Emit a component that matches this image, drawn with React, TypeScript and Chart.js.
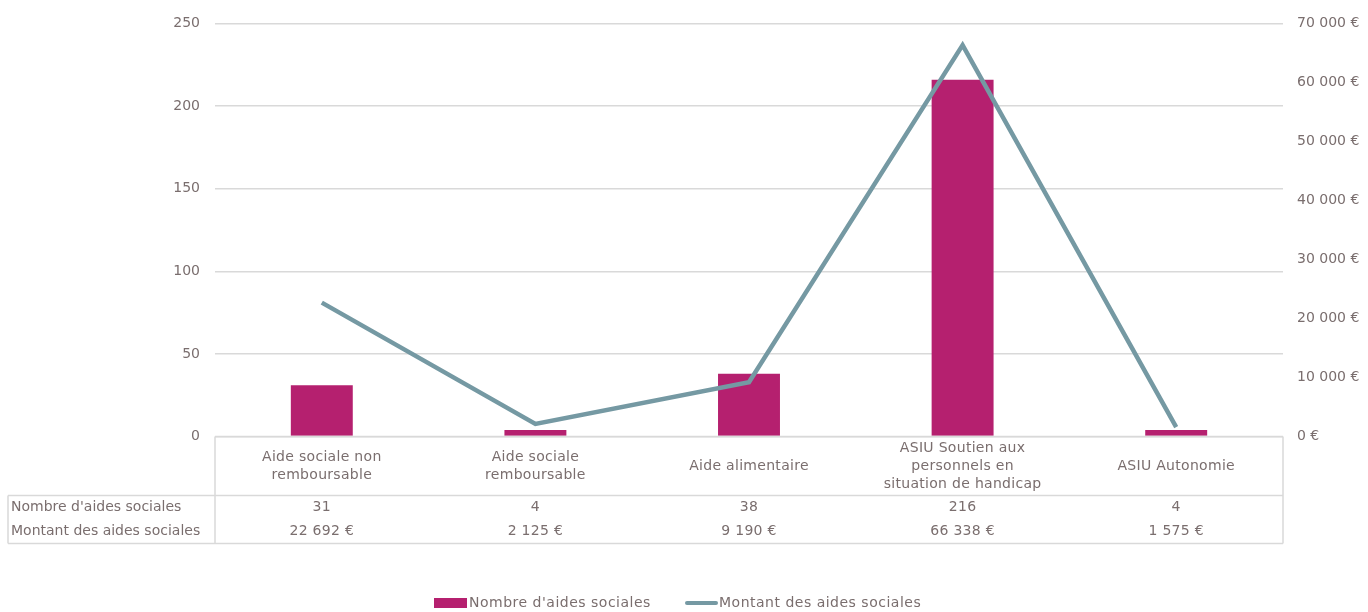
import React, { useEffect, useRef } from "react";
import { Chart, registerables } from "chart.js";

Chart.register(...registerables);

const categories: string[][] = [
  ["Aide sociale non", "remboursable"],
  ["Aide sociale", "remboursable"],
  ["Aide alimentaire"],
  ["ASIU Soutien aux", "personnels en", "situation de handicap"],
  ["ASIU Autonomie"],
];
const nombreAides: number[] = [31, 4, 38, 216, 4];
const montantAides: number[] = [22692, 2125, 9190, 66338, 1575];
const seriesNames: string[] = ["Nombre d'aides sociales", "Montant des aides sociales"];

const BAR = "#b5206f";
const LINE = "#7599a3";
const TEXT = "#7a6e6e";
const GRID = "#d9d9d9";
const FONT = "'DejaVu Sans', sans-serif";

const fmtEuro = (v: number) =>
  Math.round(v).toString().replace(/\B(?=(\d{3})+(?!\d))/g, " ") + " €";

const tablePlugin = {
  id: "dataTable",
  afterDraw(chart: any) {
    const ctx = chart.ctx as CanvasRenderingContext2D;
    const area = chart.chartArea;
    const x = chart.scales.x;
    const left = area.left;
    const right = area.right;
    const top = area.bottom;
    const headerBottom = top + 59;
    const rowH = 24;
    const tableBottom = headerBottom + rowH * 2;
    const outerLeft = 8;
    ctx.save();
    ctx.strokeStyle = GRID;
    ctx.lineWidth = 1.5;
    ctx.beginPath();
    ctx.moveTo(left, top); ctx.lineTo(right, top);
    ctx.moveTo(left, top); ctx.lineTo(left, tableBottom);
    ctx.moveTo(right, top); ctx.lineTo(right, tableBottom);
    ctx.moveTo(outerLeft, headerBottom); ctx.lineTo(right, headerBottom);
    ctx.moveTo(outerLeft, tableBottom); ctx.lineTo(right, tableBottom);
    ctx.moveTo(outerLeft, headerBottom); ctx.lineTo(outerLeft, tableBottom);
    ctx.stroke();

    ctx.fillStyle = TEXT;
    ctx.font = `14px ${FONT}`;
    (ctx as any).letterSpacing = "0.3px";
    ctx.textBaseline = "middle";
    ctx.textAlign = "center";
    const lh = 18;
    categories.forEach((lines, i) => {
      const cx = x.getPixelForValue(i);
      const cy = (top + headerBottom) / 2;
      const start = cy - ((lines.length - 1) * lh) / 2;
      lines.forEach((l, j) => ctx.fillText(l, cx, start + j * lh));
      ctx.fillText(String(nombreAides[i]), cx, headerBottom + rowH / 2);
      ctx.fillText(fmtEuro(montantAides[i]), cx, headerBottom + rowH * 1.5);
    });
    ctx.textAlign = "left";
    (ctx as any).letterSpacing = "0px";
    ctx.fillText(seriesNames[0], outerLeft + 3, headerBottom + rowH / 2);
    ctx.fillText(seriesNames[1], outerLeft + 3, headerBottom + rowH * 1.5);

    // legend
    const ly = 603;
    (ctx as any).letterSpacing = "0.5px";
    ctx.fillStyle = BAR;
    ctx.fillRect(434, ly - 5, 33, 10);
    ctx.fillStyle = TEXT;
    ctx.fillText(seriesNames[0], 469, ly);
    ctx.strokeStyle = LINE;
    ctx.lineWidth = 4;
    ctx.lineCap = "round";
    ctx.beginPath();
    ctx.moveTo(687, ly); ctx.lineTo(716, ly);
    ctx.stroke();
    ctx.fillText(seriesNames[1], 719, ly);
    ctx.restore();
  },
};

export default function App() {
  const ref = useRef<HTMLCanvasElement>(null);
  useEffect(() => {
    document.body.style.margin = "0";
    Chart.defaults.font.family = FONT;
    Chart.defaults.color = TEXT;
    const chart = new Chart(ref.current!, {
      type: "bar",
      data: {
        labels: categories.map((c) => c.join(" ")),
        datasets: [
          {
            type: "line",
            label: seriesNames[1],
            data: montantAides,
            yAxisID: "y1",
            borderColor: LINE,
            borderWidth: 4.5,
            pointRadius: 0,
            tension: 0,
            order: 0,
          },
          {
            type: "bar",
            label: seriesNames[0],
            data: nombreAides,
            yAxisID: "y",
            backgroundColor: BAR,
            barPercentage: 0.29,
            categoryPercentage: 1,
            order: 1,
          },
        ],
      },
      options: {
        responsive: false,
        animation: false,
        devicePixelRatio: 1,
        layout: { padding: { top: 23.5, bottom: 175.5, left: 0, right: 0 } },
        plugins: { legend: { display: false }, tooltip: { enabled: false } },
        scales: {
          x: { display: false, offset: true },
          y: {
            position: "left",
            min: 0,
            max: 250,
            border: { display: false },
            grid: { color: GRID, lineWidth: 1.5, drawTicks: false },
            ticks: { stepSize: 50, padding: 15, font: { size: 14 }, color: TEXT },
            afterFit: (s: any) => { s.width = 215; },
          },
          y1: {
            position: "right",
            min: 0,
            max: 70000,
            border: { display: false },
            grid: { drawOnChartArea: false, drawTicks: false },
            ticks: {
              stepSize: 10000,
              padding: 14,
              font: { size: 14 },
              color: TEXT,
              callback: (v: any) => fmtEuro(Number(v)),
            },
            afterFit: (s: any) => { s.width = 85; },
          },
        },
      },
      plugins: [tablePlugin],
    });
    return () => chart.destroy();
  }, []);
  return (
    <div style={{ width: 1368, height: 612, background: "#fff" }}>
      <canvas ref={ref} width={1368} height={612} />
    </div>
  );
}
